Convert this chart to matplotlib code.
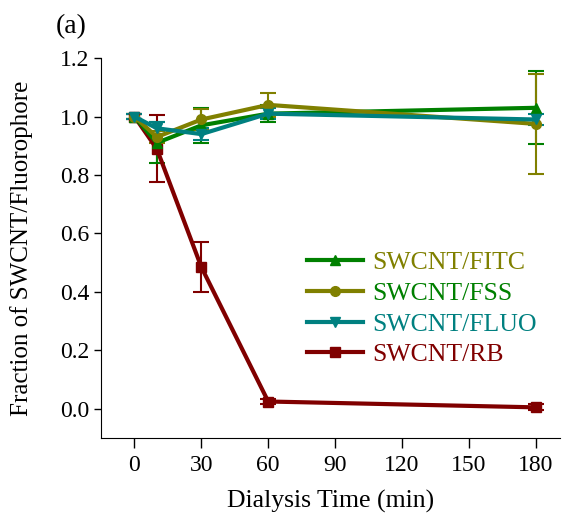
import numpy as np
import matplotlib.pyplot as plt

plt.rcParams['font.family'] = ['Liberation Serif', 'DejaVu Serif']

# dialysis time points (min)
time = [0, 10, 30, 60, 180]

fitc = [1.00, 0.91, 0.97, 1.01, 1.03]
fitc_err = [0.01, 0.07, 0.06, 0.03, 0.125]

fss = [1.00, 0.93, 0.99, 1.04, 0.975]
fss_err = [0.01, 0.02, 0.035, 0.04, 0.17]

fluo = [1.00, 0.96, 0.94, 1.01, 0.99]
fluo_err = [0.01, 0.02, 0.02, 0.02, 0.02]

rb = [1.00, 0.89, 0.485, 0.025, 0.005]
rb_err = [0.01, 0.115, 0.085, 0.01, 0.01]

series = [
    ('SWCNT/RB', rb, rb_err, '#800000', 's', '#800000'),
    ('SWCNT/FITC', fitc, fitc_err, '#008000', '^', '#808000'),
    ('SWCNT/FSS', fss, fss_err, '#808000', 'o', '#008000'),
    ('SWCNT/FLUO', fluo, fluo_err, '#008080', 'v', '#008080'),
]

fig = plt.figure(figsize=(5.71, 5.19), dpi=100)
ax = fig.add_axes([0.177, 0.156, 0.804, 0.732])

handles = {}
for name, vals, err, col, mk, _ in series:
    h = ax.errorbar(time, vals, yerr=err, color=col, marker=mk, markersize=7,
                    linewidth=3, elinewidth=1.5, capsize=5.5, capthick=1.5,
                    label=name)
    handles[name] = h

order = ['SWCNT/FITC', 'SWCNT/FSS', 'SWCNT/FLUO', 'SWCNT/RB']
text_cols = {s[0]: s[5] for s in series}
leg = ax.legend([handles[n][0] for n in order], order, loc='lower left',
                bbox_to_anchor=(0.42, 0.155), frameon=False, fontsize=18.5,
                handlelength=2.2, handletextpad=0.35, labelspacing=0.3,
                borderpad=0)
for t in leg.get_texts():
    t.set_color(text_cols[t.get_text()])

ax.set_xlim(-15, 191)
ax.set_ylim(-0.1, 1.2)
ax.set_xticks([0, 30, 60, 90, 120, 150, 180])
ax.set_yticks(np.arange(0, 1.21, 0.2))
ax.yaxis.set_major_formatter(plt.FormatStrFormatter('%.1f'))
ax.spines['top'].set_visible(False)
ax.spines['right'].set_visible(False)
ax.tick_params(direction='out', labelsize=17, width=1, length=5)
ax.tick_params(axis='x', length=7, pad=5)
ax.set_xlabel('Dialysis Time (min)', fontsize=18.5, labelpad=10)
ax.set_ylabel('Fraction of SWCNT/Fluorophore', fontsize=18, labelpad=19)
fig.text(0.125, 0.948, '(a)', fontsize=20, ha='center', va='center')

fig.savefig('out.png', dpi=100)
